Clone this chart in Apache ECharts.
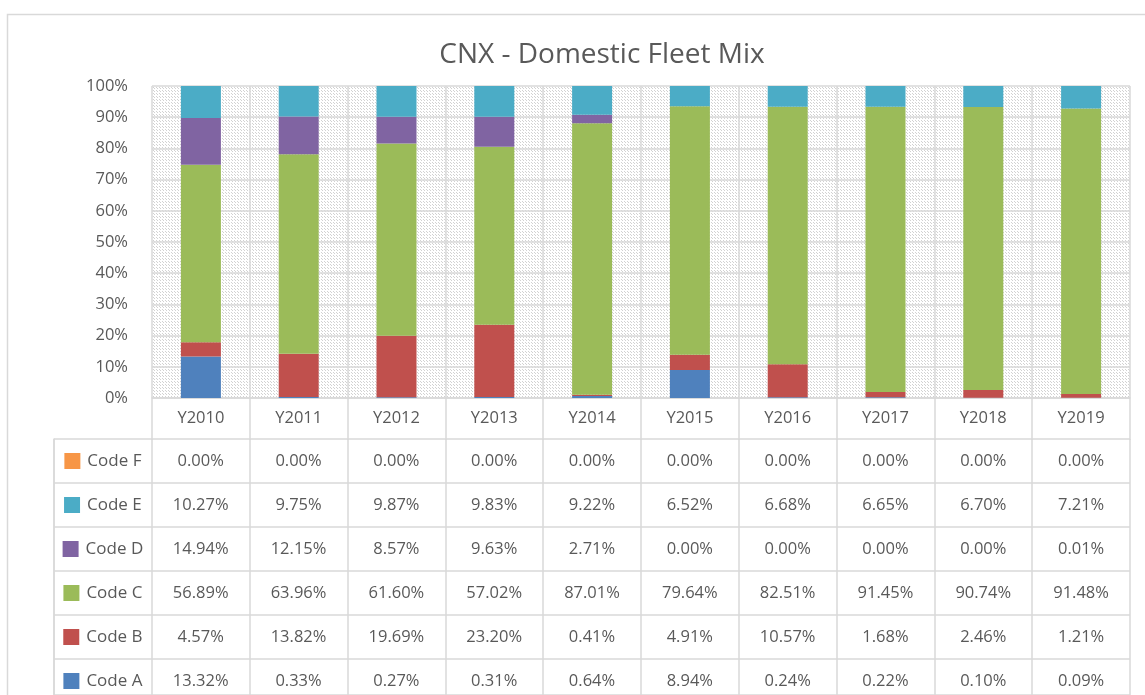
<!DOCTYPE html>
<html>
<head>
<meta charset="utf-8">
<title>CNX - Domestic Fleet Mix</title>
<script src="https://cdn.jsdelivr.net/npm/echarts@6/dist/echarts.min.js"></script>
<style>
  html, body { margin: 0; padding: 0; background: #fff; }
  #main { width: 1145px; height: 695px; }
</style>
</head>
<body>
<div id="main"></div>
<script>
// data (percent)
var years = ['Y2010','Y2011','Y2012','Y2013','Y2014','Y2015','Y2016','Y2017','Y2018','Y2019'];
var codeA = [13.32, 0.33, 0.27, 0.31, 0.64, 8.94, 0.24, 0.22, 0.10, 0.09];
var codeB = [4.57, 13.82, 19.69, 23.20, 0.41, 4.91, 10.57, 1.68, 2.46, 1.21];
var codeC = [56.89, 63.96, 61.60, 57.02, 87.01, 79.64, 82.51, 91.45, 90.74, 91.48];
var codeD = [14.94, 12.15, 8.57, 9.63, 2.71, 0.00, 0.00, 0.00, 0.00, 0.01];
var codeE = [10.27, 9.75, 9.87, 9.83, 9.22, 6.52, 6.68, 6.65, 6.70, 7.21];
var codeF = [0.00, 0.00, 0.00, 0.00, 0.00, 0.00, 0.00, 0.00, 0.00, 0.00];
var yTicks = [0, 0.1, 0.2, 0.3, 0.4, 0.5, 0.6, 0.7, 0.8, 0.9, 1];

var codes = [
    {name: 'Code A', data: codeA, color: '#4f81bd'},
    {name: 'Code B', data: codeB, color: '#c0504d'},
    {name: 'Code C', data: codeC, color: '#9bbb59'},
    {name: 'Code D', data: codeD, color: '#8064a2'},
    {name: 'Code E', data: codeE, color: '#4bacc6'},
    {name: 'Code F', data: codeF, color: '#f79646'}
];
var tableRows = ['Code F','Code E','Code D','Code C','Code B','Code A'];

var textColor = '#595959';
var lineColor = '#d9d9d9';
var font = '"Open Sans", "Noto Sans", sans-serif';
var labelSize = 16.5;

// hatched plot background
function makeHatch() {
    var c = document.createElement('canvas');
    c.width = 6; c.height = 6;
    var ctx = c.getContext('2d');
    ctx.fillStyle = '#fff';
    ctx.fillRect(0, 0, 6, 6);
    ctx.fillStyle = '#d2d2d2';
    for (var i = 0; i < 6; i++) {
        if (i % 3 == 2) continue;
        ctx.fillRect(i, i, 1, 1);
        ctx.fillRect((i + 3) % 6, i, 1, 1);
    }
    return c;
}

var chart = echarts.init(document.getElementById('main'));

var series = [];
for (var i = 0; i < codes.length; i++) {
    series.push({
        name: codes[i].name,
        type: 'bar',
        stack: 'mix',
        xAxisIndex: 0,
        yAxisIndex: 0,
        barWidth: 40,
        itemStyle: {color: codes[i].color},
        data: codes[i].data.map(function (v) { return v / 100; })
    });
}

// table cells, row r sits between r and r+1 on the table's y axis
var cells = [];
var legendCells = [];
for (var r = 0; r < tableRows.length; r++) {
    var code = codes.filter(function (c) { return c.name == tableRows[r]; })[0];
    var rich = {
        s: {width: 16, height: 16, backgroundColor: code.color},
        t: {fontSize: 17, color: textColor, fontFamily: font, padding: [0, 0, 0, 7]}
    };
    legendCells.push({
        value: [0, r + 0.5],
        label: {formatter: '{s|}{t|' + code.name + '}', rich: rich}
    });
    for (var y = 0; y < years.length; y++) {
        cells.push([y + 1, r + 0.5, code.data[y].toFixed(2) + '%']);
    }
}

series.push({
    type: 'scatter',
    xAxisIndex: 1,
    yAxisIndex: 1,
    symbolSize: 0,
    silent: true,
    itemStyle: {opacity: 1},
    label: {
        show: true,
        position: 'inside',
        color: textColor,
        fontSize: labelSize,
        fontFamily: font,
        formatter: function (p) { return p.value[2]; }
    },
    data: cells
});
series.push({
    type: 'scatter',
    xAxisIndex: 1,
    yAxisIndex: 1,
    symbolSize: 0,
    silent: true,
    itemStyle: {opacity: 1},
    label: {show: true, position: 'inside'},
    data: legendCells
});

var option = {
    backgroundColor: '#fff',
    animation: false,
    title: {
        text: 'CNX - Domestic Fleet Mix',
        left: 597,
        top: 36,
        textAlign: 'center',
        textStyle: {color: textColor, fontSize: 28, fontWeight: 'normal', fontFamily: font}
    },
    graphic: [{
        type: 'rect',
        shape: {x: 7.5, y: 14.5, width: 1200, height: 720},
        style: {fill: 'none', stroke: lineColor, lineWidth: 1.5},
        silent: true
    }],
    grid: [
        {left: 152, right: 15, top: 86, height: 312, show: true,
         backgroundColor: {image: makeHatch(), repeat: 'repeat'}, borderWidth: 0},
        {left: 54, right: 15, top: 439, bottom: 0}
    ],
    xAxis: [
        {
            type: 'category',
            gridIndex: 0,
            data: years,
            axisLine: {lineStyle: {color: lineColor, width: 1.5}},
            axisTick: {show: true, length: 42, lineStyle: {color: lineColor, width: 1.5}},
            axisLabel: {color: textColor, fontSize: labelSize, fontFamily: font, margin: 12},
            splitLine: {show: true, lineStyle: {color: lineColor, width: 1.5}}
        },
        {
            type: 'category',
            gridIndex: 1,
            data: [''].concat(years),
            axisLine: {show: false},
            axisTick: {show: false},
            axisLabel: {show: false},
            splitLine: {show: true, lineStyle: {color: lineColor, width: 1.5}}
        }
    ],
    yAxis: [
        {
            type: 'value',
            gridIndex: 0,
            min: 0,
            max: 1,
            interval: yTicks[1] - yTicks[0],
            axisLine: {show: false},
            axisTick: {show: false},
            axisLabel: {
                color: textColor, fontSize: labelSize, fontFamily: font, margin: 24,
                formatter: function (v) { return Math.round(v * 100) + '%'; }
            },
            splitLine: {show: true, lineStyle: {color: lineColor, width: 1.5}}
        },
        {
            // table rows are 44px tall; the last one is cut by the page edge
            type: 'value',
            gridIndex: 1,
            inverse: true,
            min: 0,
            max: 256 / 44,
            interval: 1,
            axisLine: {show: true, lineStyle: {color: lineColor, width: 1.5}},
            axisTick: {show: false},
            axisLabel: {show: false},
            splitLine: {show: true, lineStyle: {color: lineColor, width: 1.5}}
        }
    ],
    series: series
};

chart.setOption(option);
</script>
</body>
</html>
